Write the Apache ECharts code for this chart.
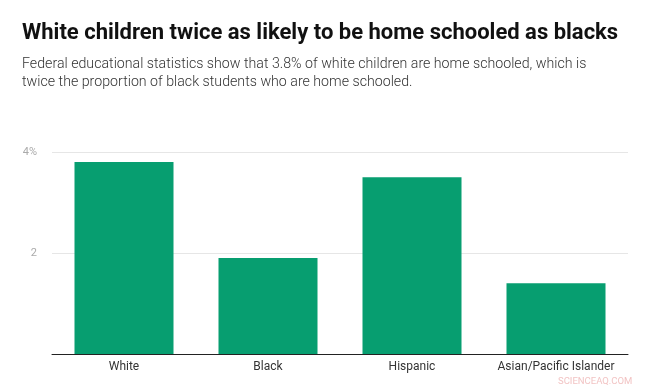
<!DOCTYPE html>
<html><head><meta charset="utf-8">
<script src="https://cdn.jsdelivr.net/npm/echarts@6/dist/echarts.min.js"></script>
<style>html,body{margin:0;padding:0;background:#fff}#c{width:649px;height:392px}</style>
</head><body><div id="c"></div>
<script>
const categories = ["White", "Black", "Hispanic", "Asian/Pacific Islander"];
const values = [3.8, 1.9, 3.5, 1.4];
const yTicks = [0, 2, 4];
const yTickLabels = ["", "2", "4%"];
const titleText = "White children twice as likely to be home schooled as blacks";
const subtitleText = "Federal educational statistics show that 3.8% of white children are home schooled, which is\ntwice the proportion of black students who are home schooled.";
const watermark = "SCIENCEAQ.COM";

const chart = echarts.init(document.getElementById('c'), null, {renderer: 'canvas'});
chart.setOption({
  animation: false,
  backgroundColor: '#fff',
  title: [{
    text: titleText,
    left: 22, top: 22, padding: 0,
    textStyle: {fontFamily: 'Roboto', fontWeight: 'bold', fontSize: 22, color: '#111'}
  }, {
    text: subtitleText,
    left: 22, top: 56, padding: 0,
    textStyle: {fontFamily: 'Roboto', fontWeight: 300, fontSize: 14.2, color: '#333', lineHeight: 17.5}
  }, {
    text: watermark,
    left: 558, top: 377, padding: 0,
    textStyle: {fontFamily: 'Roboto', fontWeight: 'normal', fontSize: 9.5, color: '#f2c4c4'}
  }],
  grid: {left: 52, right: 21, top: 152, bottom: 38, containLabel: false},
  xAxis: {
    type: 'category',
    data: categories,
    axisLine: {show: true, lineStyle: {color: '#222', width: 1}},
    axisTick: {show: false},
    axisLabel: {interval: 0, fontFamily: 'Roboto', fontSize: 12, color: '#333', margin: 7}
  },
  yAxis: {
    type: 'value',
    min: yTicks[0], max: yTicks[yTicks.length - 1], interval: 2,
    axisLine: {show: false},
    axisTick: {show: false},
    splitLine: {show: true, lineStyle: {color: '#e6e6e6', width: 1}},
    axisLabel: {
      fontFamily: 'Roboto', fontSize: 11, color: '#aaa', margin: 15,
      formatter: function (v) { const i = yTicks.indexOf(v); return i >= 0 ? yTickLabels[i] : ''; }
    }
  },
  series: [{
    type: 'bar',
    data: values,
    barWidth: 99,
    itemStyle: {color: '#079e70'}
  }]
});
</script></body></html>
